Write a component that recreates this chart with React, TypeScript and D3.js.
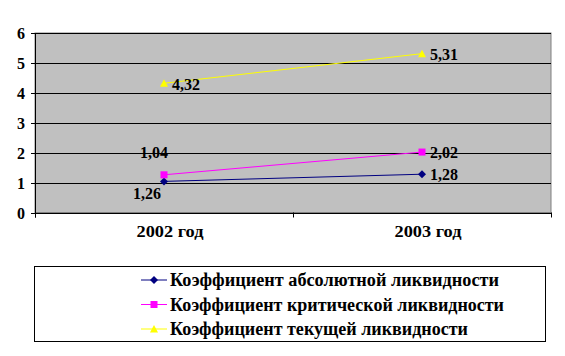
import React from "react";
import * as d3 from "d3";

const categories = ["2002 год", "2003 год"];
const seriesNames = [
  "Коэффициент абсолютной ликвидности",
  "Коэффициент критической ликвидности",
  "Коэффициент текущей ликвидности",
];
const absValues = [1.04, 1.28];
const critValues = [1.26, 2.02];
const curValues = [4.32, 5.31];
const yTicks = [0, 1, 2, 3, 4, 5, 6];

const colors = ["#000080", "#FF00FF", "#FFFF00"];
const markers = ["diamond", "square", "triangle"];
// label offsets (dx, dy) per series per point, from the point
const labelOffsets = [
  [[-24, -29], [8, 0]],
  [[-31, 18], [8, 0]],
  [[8, 1], [8, 0]],
];
const legendWidths = [329, 334, 298];

const W = 565, H = 356;
const left = 35, right = 551, top = 33, bottom = 212.5;
const FF = '"Liberation Serif"';
const txt: React.CSSProperties = { fontFamily: FF, fontWeight: 700, fontSize: "16px" };
const legTxt: React.CSSProperties = { fontFamily: FF, fontWeight: 700, fontSize: "18px" };

function Marker({ type, x, y, color }: { type: string; x: number; y: number; color: string }) {
  if (type === "diamond") {
    const s = 4;
    return <path d={`M${x},${y - s}L${x + s},${y}L${x},${y + s}L${x - s},${y}Z`} fill={color} />;
  }
  if (type === "square") {
    return <rect x={x - 3.5} y={y - 3.5} width={7} height={7} fill={color} />;
  }
  return <path d={`M${x},${y - 4}L${x + 4},${y + 3.5}L${x - 4},${y + 3.5}Z`} fill={color} />;
}

export default function App() {
  const series = [absValues, critValues, curValues];
  const x = d3.scaleBand().domain(categories).range([left, right]);
  const cx = (c: string) => (x(c) as number) + x.bandwidth() / 2;
  const y = d3.scaleLinear().domain([0, 6]).range([bottom, top]);
  const line = d3.line<number>().x((_, i) => cx(categories[i])).y((d) => y(d));
  const fmt = (v: number) => v.toFixed(2).replace(".", ",");

  return (
    <svg width={W} height={H} style={{ position: "absolute", left: 0, top: 0, background: "#fff" }}>
      <rect x={left} y={top} width={right - left} height={bottom - top} fill="#C0C0C0" stroke="#808080" strokeWidth={1} />
      {yTicks.slice(1).map((t) => (
        <line key={t} x1={left} x2={right} y1={Math.round(y(t)) + 0.5} y2={Math.round(y(t)) + 0.5} stroke="#000" strokeWidth={1} />
      ))}
      {/* y axis */}
      <line x1={left + 0.5} x2={left + 0.5} y1={top} y2={bottom + 5} stroke="#000" />
      {yTicks.map((t) => (
        <g key={t}>
          <line x1={left - 4} x2={left} y1={Math.round(y(t)) + 0.5} y2={Math.round(y(t)) + 0.5} stroke="#000" />
          <text x={25} y={y(t) + 6} textAnchor="end" style={txt}>{t}</text>
        </g>
      ))}
      {/* x axis */}
      <line x1={left} x2={right} y1={Math.round(bottom) + 0.5} y2={Math.round(bottom) + 0.5} stroke="#000" />
      {[left, (left + right) / 2, right].map((tx, i) => (
        <line key={i} x1={Math.round(tx) + 0.5} x2={Math.round(tx) + 0.5} y1={bottom} y2={bottom + 5} stroke="#000" />
      ))}
      {categories.map((c) => (
        <text key={c} x={cx(c) + 6} y={237} textAnchor="middle" style={txt} textLength={67} lengthAdjust="spacingAndGlyphs">{c}</text>
      ))}
      {series.map((vals, si) => (
        <g key={si}>
          <path d={line(vals) as string} fill="none" stroke={colors[si]} strokeWidth={1} />
          {vals.map((v, i) => (
            <Marker key={i} type={markers[si]} x={cx(categories[i])} y={y(v)} color={colors[si]} />
          ))}
          {vals.map((v, i) => (
            <text key={"l" + i} x={cx(categories[i]) + labelOffsets[si][i][0]} y={y(v) + labelOffsets[si][i][1] + 6}
              style={txt} fill="#000">{fmt(v)}</text>
          ))}
        </g>
      ))}
      {/* legend */}
      <rect x={34.5} y={266.5} width={511} height={75} fill="#fff" stroke="#000" strokeWidth={1} />
      {seriesNames.map((n, i) => {
        const ly = 280 + i * 24.5;
        return (
          <g key={n}>
            <line x1={141} x2={167} y1={ly} y2={ly} stroke={colors[i]} />
            <Marker type={markers[i]} x={154} y={ly} color={colors[i]} />
            <text x={170} y={ly + 6} style={legTxt} textLength={legendWidths[i]} lengthAdjust="spacingAndGlyphs">{n}</text>
          </g>
        );
      })}
    </svg>
  );
}
